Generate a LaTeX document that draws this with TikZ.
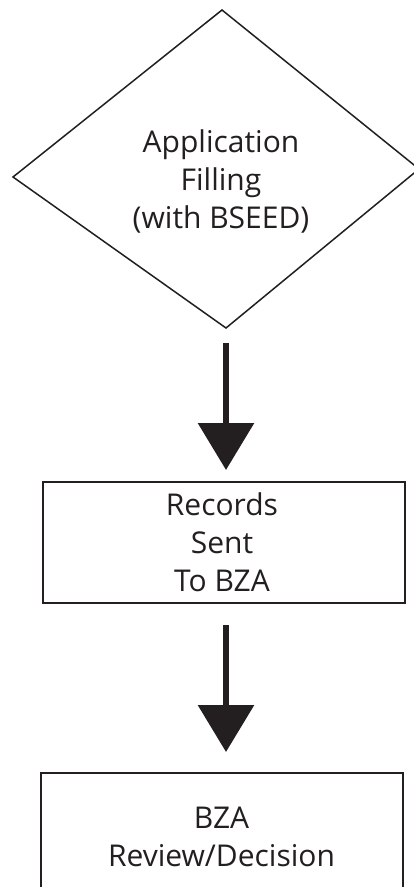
\documentclass[tikz,border=0pt]{standalone}
\usepackage{fontspec}
\setmainfont{Open Sans}
\usetikzlibrary{arrows.meta}
\definecolor{ink}{HTML}{231F20}
\begin{document}
\begin{tikzpicture}[x=1pt,y=-1pt,
  txt/.style={font=\fontsize{30}{38}\selectfont, text=ink, align=center, inner sep=0pt},
  boxshape/.style={draw=ink, line width=2pt, minimum width=362pt, inner sep=0pt},
  diaedge/.style={draw=ink, line width=1.5pt, line join=miter},
  bigarrow/.style={draw=ink, line width=6.3pt, -{Triangle[width=55pt,length=47pt]}}]
\fill[white] (0,0) rectangle (414,887);
\useasboundingbox (0,0) rectangle (414,887);
% diamond
\coordinate (dT) at (222,10);
\coordinate (dR) at (419,169);
\coordinate (dB) at (226,328);
\coordinate (dL) at (13,177);
\draw[diaedge] (dT) -- (dR) -- (dB) -- (dL) -- cycle;
\node[txt] (dia) at (221,181) {Application\\Filling\\(with BSEED)};
% boxes
\node[boxshape, minimum height=121pt] (box1) at (224,542.5) {};
\node[txt] (t1) at (222,542.5) {Records\\Sent\\To BZA};
\node[boxshape, minimum height=148pt] (box2) at (222,847) {};
\node[txt] (t2) at (221.5,836.5) {BZA\\Review/Decision};
% arrows
\coordinate (a1s) at (226,343);
\coordinate (a1e) at (226,470);
\coordinate (a2s) at (226,625);
\coordinate (a2e) at (226,752);
\draw[bigarrow] (a1s) -- (a1e);
\draw[bigarrow] (a2s) -- (a2e);
\end{tikzpicture}
\end{document}
